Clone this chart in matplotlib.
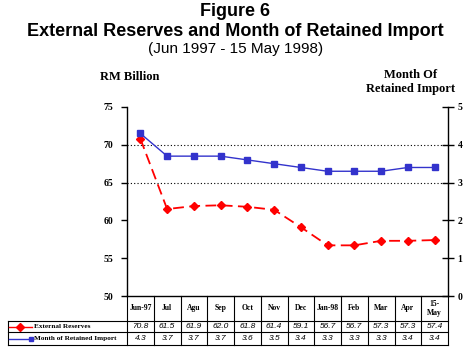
import matplotlib
matplotlib.use("Agg")
import matplotlib.pyplot as plt
from matplotlib.lines import Line2D
from matplotlib.transforms import blended_transform_factory

months = ["Jun-97", "Jul", "Agu", "Sep", "Oct", "Nov", "Dec", "Jan-98",
          "Feb", "Mar", "Apr", "15-\nMay"]
reserves = [70.8, 61.5, 61.9, 62.0, 61.8, 61.4, 59.1, 56.7, 56.7, 57.3, 57.3, 57.4]
import_months = [4.3, 3.7, 3.7, 3.7, 3.6, 3.5, 3.4, 3.3, 3.3, 3.3, 3.4, 3.4]
series_names = ["External Reserves", "Month of Retained Import"]

RED = "#ff0000"
BLUE = "#3333cc"
W, H = 471, 353

fig = plt.figure(figsize=(W / 100, H / 100), dpi=100)
# plot area in pixels: x 127..448, y 107..296
ax = fig.add_axes([127 / W, 1 - 296 / H, 321 / W, 189 / H])
ax2 = ax.twinx()

x = list(range(len(months)))
ax.plot(x, reserves, color=RED, lw=1.3, ls=(0, (6, 3)), marker="D",
        markersize=4.5, zorder=5)
ax2.plot(x, import_months, color=BLUE, lw=1, marker="s", markersize=4.5, zorder=5)

ax.set_xlim(-0.5, len(months) - 0.5)
ax.set_ylim(50, 75)
ax2.set_ylim(0, 5)
ax.set_yticks(range(50, 76, 5))
ax2.set_yticks(range(0, 6))
for v in (65, 70):
    ax.axhline(v, color="black", lw=0.8, ls=(0, (1, 2)), zorder=1)

ax.set_xticks([])
for a in (ax, ax2):
    a.spines["top"].set_visible(False)
ax.spines["right"].set_visible(False)
ax.spines["left"].set_linewidth(1)
ax.spines["bottom"].set_linewidth(1)
ax2.spines["right"].set_linewidth(1)
ax2.spines["left"].set_visible(False)
ax2.spines["bottom"].set_visible(False)

ax.tick_params(axis="y", direction="out", length=4, width=1, pad=6)
ax2.tick_params(axis="y", direction="inout", length=8, width=1, pad=3)
for lab in ax.get_yticklabels() + ax2.get_yticklabels():
    lab.set_fontfamily("Liberation Serif")
    lab.set_fontweight("bold")
    lab.set_fontsize(7)

# titles
fig.text(0.5, 1 - 12 / H, "Figure 6", ha="center", va="center",
         family="Liberation Sans", weight="bold", size=13)
fig.text(0.5, 1 - 31 / H, "External Reserves and Month of Retained Import",
         ha="center", va="center", family="Liberation Sans", weight="bold", size=13)
fig.text(0.5, 1 - 49 / H, "(Jun 1997 - 15 May 1998)", ha="center", va="center",
         family="Liberation Sans", size=11)
fig.text(130 / W, 1 - 77 / H, "RM Billion", ha="center", va="center",
         family="Liberation Serif", weight="bold", size=9)
fig.text(411 / W, 1 - 82 / H, "Month Of\nRetained Import", ha="center",
         va="center", family="Liberation Serif", weight="bold", size=9,
         linespacing=1.3)

# data table under the chart (x in data units, y in axes fraction)
trans = blended_transform_factory(ax.transData, ax.transAxes)
px = 1 / 189  # one pixel in axes-height fraction
y_cat, y_r1, y_r2 = -25 * px, -36 * px, -49 * px
lab_left = -119 / 321
tl = dict(color="black", lw=0.8, clip_on=False)
for k in range(len(months) + 1):
    ax.plot([k - 0.5, k - 0.5], [0, y_r2], transform=trans, **tl)
for yy in (y_cat, y_r1, y_r2):
    ax.plot([lab_left, 1], [yy, yy], transform=ax.transAxes, **tl)
ax.plot([lab_left, lab_left], [y_cat, y_r2], transform=ax.transAxes, **tl)

for i, m in enumerate(months):
    ax.text(i, y_cat / 2, m, transform=trans, ha="center", va="center",
            family="Liberation Serif", weight="bold", size=5.5, linespacing=1.1)
    ax.text(i, (y_cat + y_r1) / 2, f"{reserves[i]:.1f}", transform=trans,
            ha="center", va="center", family="Liberation Sans", style="italic",
            size=6)
    ax.text(i, (y_r1 + y_r2) / 2, f"{import_months[i]:.1f}", transform=trans,
            ha="center", va="center", family="Liberation Sans", style="italic",
            size=6)

# legend keys inside the row-label cells
ys = [1 - 326.5 / H, 1 - 338.5 / H]
fig.add_artist(Line2D([9 / W, 32 / W], [ys[0]] * 2, color=RED, lw=1,
                      transform=fig.transFigure))
fig.add_artist(Line2D([20 / W], [ys[0]], color=RED, marker="D", markersize=4,
                      transform=fig.transFigure))
fig.add_artist(Line2D([9 / W, 32 / W], [ys[1]] * 2, color=BLUE, lw=1,
                      transform=fig.transFigure))
fig.add_artist(Line2D([31 / W], [ys[1]], color=BLUE, marker="s", markersize=3.5,
                      transform=fig.transFigure))
for yy, name in zip(ys, series_names):
    fig.text(34 / W, yy, name, ha="left", va="center",
             family="Liberation Serif", weight="bold", size=5.2)

fig.savefig("out.png", dpi=100)
